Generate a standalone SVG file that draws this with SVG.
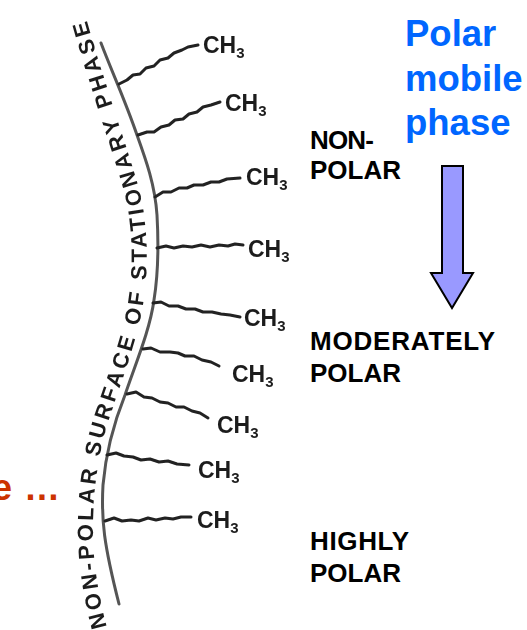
<svg xmlns="http://www.w3.org/2000/svg" width="527" height="630" viewBox="0 0 527 630">
<style>
text{font-family:"Liberation Sans",Arial,sans-serif;font-weight:700}
.lab{font-size:26px;fill:#000}
.blue{font-size:36.5px;fill:#0066ff}
.ch{font-size:23px;fill:#1c1c1c}
.sub{font-size:15px;fill:#1c1c1c}
.chain{fill:none;stroke:#222;stroke-width:3;stroke-linejoin:round;stroke-linecap:round}
.surf{fill:none;stroke:#555;stroke-width:3;stroke-linecap:round}
.along{font-size:22px;fill:#1c1c1c;letter-spacing:3.2px}
.soft{filter:url(#soft)}
</style>
<defs>
<filter id="soft" x="-5%" y="-5%" width="110%" height="110%"><feGaussianBlur stdDeviation="0.6"/></filter>
<path id="tp" d="M107 627C97 590 92 555 93 520C94 480 100 445 112 410C125 370 140 335 145 290C149 250 146 215 138 185C125 140 100 70 84 10"/>
</defs>
<rect width="527" height="630" fill="#fff"/>
<g id="surface" class="soft">
<path class="surf" d="M101 43C112 72 125 100 137 135C146 160 155 185 157 215C159 250 158 275 154 300C150 330 135 365 125 395C115 420 106 450 103 485C101 520 104 545 119 604"/>
<text class="along"><textPath href="#tp">NON-POLAR SURFACE OF STATIONARY PHASE</textPath></text>
</g>
<g id="connectors" class="soft">
<path class="chain" d="M119 84l8-4 6-5 7-1 6-6 8-2 6-6 8-2 6-5 8-3 6-3 10-2"/>
<path class="chain" d="M138 135l9-3 7 0 7-5 8-2 6-5 8-1 6-5 8-2 6-5 8-2 9-3"/>
<path class="chain" d="M155 197l8-5 8 0 8-4 8 0 7-3 9 0 8-3 8 0 8-3 13-1"/>
<path class="chain" d="M157 248l9-2 8 2 9-2 9 1 9-2 9 2 9-2 9 1 7-2 8 1"/>
<path class="chain" d="M153 303l8-1 8 4 9 0 8 3 9 0 8 3 9 0 9 2 9 1 10 2"/>
<path class="chain" d="M143 349l8-1 9 4 10 0 8 1 7 3 9 0 8 4 9 2 8 4"/>
<path class="chain" d="M127 394l9-2 8 5 8 1 8 4 8 1 8 4 8 0 8 4 8 2 8 5"/>
<path class="chain" d="M107 455l9-2 8 3 9 1 8 3 9-1 9 3 9-1 9 3 12 1"/>
<path class="chain" d="M105 521l9-3 8 3 9-1 8 1 9-3 8 2 9-2 8 1 8-2 10 0"/>
</g>
<g id="ch3-1" class="soft"><text class="ch" x="203" y="53">CH<tspan class="sub" dy="5">3</tspan></text></g>
<g id="ch3-2" class="soft"><text class="ch" x="225" y="111">CH<tspan class="sub" dy="5">3</tspan></text></g>
<g id="ch3-3" class="soft"><text class="ch" x="246" y="185">CH<tspan class="sub" dy="5">3</tspan></text></g>
<g id="ch3-4" class="soft"><text class="ch" x="248" y="257">CH<tspan class="sub" dy="5">3</tspan></text></g>
<g id="ch3-5" class="soft"><text class="ch" x="244" y="326">CH<tspan class="sub" dy="5">3</tspan></text></g>
<g id="ch3-6" class="soft"><text class="ch" x="232" y="382">CH<tspan class="sub" dy="5">3</tspan></text></g>
<g id="ch3-7" class="soft"><text class="ch" x="217" y="433">CH<tspan class="sub" dy="5">3</tspan></text></g>
<g id="ch3-8" class="soft"><text class="ch" x="198" y="478">CH<tspan class="sub" dy="5">3</tspan></text></g>
<g id="ch3-9" class="soft"><text class="ch" x="197" y="528">CH<tspan class="sub" dy="5">3</tspan></text></g>
<g id="label-non-polar"><text class="lab" x="310" y="149" textLength="64">NON-</text><text class="lab" x="310" y="179" textLength="91">POLAR</text></g>
<g id="label-moderately"><text class="lab" x="310" y="350" textLength="185">MODERATELY</text><text class="lab" x="310" y="382" textLength="91">POLAR</text></g>
<g id="label-highly"><text class="lab" x="310" y="550" textLength="99">HIGHLY</text><text class="lab" x="310" y="582" textLength="91">POLAR</text></g>
<g id="mobile-phase"><text class="blue" x="405" y="46">Polar</text><text class="blue" x="405" y="91">mobile</text><text class="blue" x="405" y="135">phase</text></g>
<g id="arrow"><path d="M442 166H463V273H473L452 308L431 273H442Z" fill="#9999ff" stroke="#000" stroke-width="2"/></g>
<g id="cut-text"><text x="12" y="500" text-anchor="end" style="font-size:36px;fill:#cc3300">e</text><text x="60" y="500" text-anchor="end" style="font-size:36px;fill:#cc3300">…</text></g>
</svg>
